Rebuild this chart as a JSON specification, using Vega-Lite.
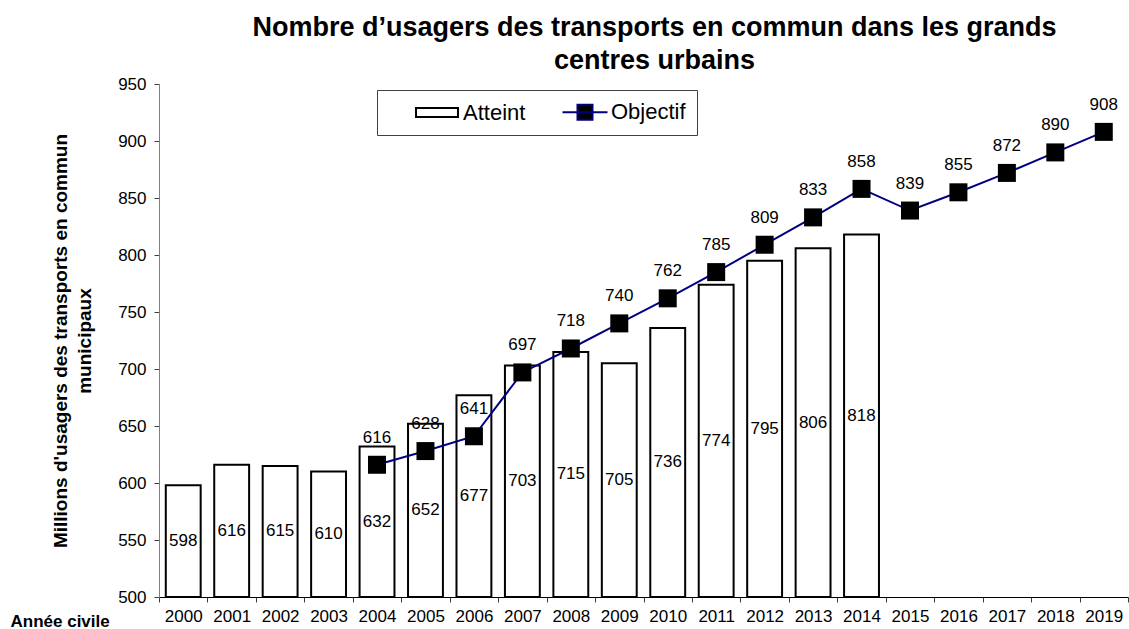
{
  "$schema": "https://vega.github.io/schema/vega-lite/v6.json",
  "width": 969,
  "height": 513,
  "autosize": "none",
  "padding": {"left": 159, "top": 84, "right": 1, "bottom": 32},
  "background": "white",
  "title": {
    "text": ["Nombre d’usagers des transports en commun dans les grands", "centres urbains"],
    "fontSize": 27,
    "fontWeight": "bold",
    "font": "Liberation Sans",
    "color": "black",
    "anchor": "middle",
    "dx": 11,
    "offset": 0,
    "lineHeight": 33
  },
  "config": {
    "font": "Liberation Sans",
    "view": {"stroke": null},
    "axis": {"labelFont": "Liberation Sans", "labelFontSize": 17, "labelColor": "black", "grid": false, "titleFont": "Liberation Sans", "titleColor": "black"}
  },
  "data": {
    "values": [
      {"annee": "2000", "Atteint": 598, "Objectif": null},
      {"annee": "2001", "Atteint": 616, "Objectif": null},
      {"annee": "2002", "Atteint": 615, "Objectif": null},
      {"annee": "2003", "Atteint": 610, "Objectif": null},
      {"annee": "2004", "Atteint": 632, "Objectif": 616},
      {"annee": "2005", "Atteint": 652, "Objectif": 628},
      {"annee": "2006", "Atteint": 677, "Objectif": 641},
      {"annee": "2007", "Atteint": 703, "Objectif": 697},
      {"annee": "2008", "Atteint": 715, "Objectif": 718},
      {"annee": "2009", "Atteint": 705, "Objectif": 740},
      {"annee": "2010", "Atteint": 736, "Objectif": 762},
      {"annee": "2011", "Atteint": 774, "Objectif": 785},
      {"annee": "2012", "Atteint": 795, "Objectif": 809},
      {"annee": "2013", "Atteint": 806, "Objectif": 833},
      {"annee": "2014", "Atteint": 818, "Objectif": 858},
      {"annee": "2015", "Atteint": null, "Objectif": 839},
      {"annee": "2016", "Atteint": null, "Objectif": 855},
      {"annee": "2017", "Atteint": null, "Objectif": 872},
      {"annee": "2018", "Atteint": null, "Objectif": 890},
      {"annee": "2019", "Atteint": null, "Objectif": 908}
    ]
  },
  "encoding": {
    "x": {
      "field": "annee",
      "type": "ordinal",
      "scale": {"paddingInner": 0, "paddingOuter": 0},
      "axis": {
        "title": "Année civile",
        "titleFontSize": 17,
        "titleFontWeight": "bold",
        "titleAlign": "left",
        "titleAnchor": "start",
        "titleBaseline": "top",
        "titleX": -149,
        "titleY": 16,
        "labelAngle": 0,
        "labelPadding": 6,
        "tickSize": 5,
        "tickBand": "extent",
        "domainColor": "black",
        "tickColor": "#404040"
      }
    }
  },
  "layer": [
    {
      "transform": [{"filter": "isValid(datum.Atteint)"}],
      "mark": {"type": "bar", "width": {"band": 0.72}, "fill": "white", "stroke": "black", "strokeWidth": 2},
      "encoding": {
        "y": {
          "field": "Atteint",
          "type": "quantitative",
          "scale": {"domain": [500, 950], "zero": false, "nice": false},
          "axis": {
            "title": ["Millions d'usagers des transports en commun", "municipaux"],
            "titleFontSize": 19,
            "titleFontWeight": "bold",
            "titleLineHeight": 24,
            "titlePadding": 23,
            "values": [500, 550, 600, 650, 700, 750, 800, 850, 900, 950],
            "tickSize": 5,
            "labelPadding": 8,
            "domainColor": "#808080",
            "tickColor": "#404040"
          }
        },
        "y2": {"datum": 500}
      }
    },
    {
      "transform": [{"filter": "isValid(datum.Atteint)"}],
      "mark": {"type": "text", "fontSize": 17, "color": "black", "baseline": "middle", "align": "center"},
      "encoding": {
        "y": {"field": "Atteint", "type": "quantitative", "scale": {"domain": [500, 1400], "zero": false, "nice": false}, "axis": null},
        "text": {"field": "Atteint", "type": "quantitative"}
      }
    },
    {
      "transform": [{"filter": "isValid(datum.Objectif)"}],
      "mark": {"type": "line", "color": "#000080", "strokeWidth": 2},
      "encoding": {
        "y": {"field": "Objectif", "type": "quantitative", "scale": {"domain": [500, 950], "zero": false, "nice": false}, "axis": null}
      }
    },
    {
      "transform": [{"filter": "isValid(datum.Objectif)"}],
      "mark": {"type": "point", "shape": "square", "filled": true, "color": "black", "size": 324, "opacity": 1},
      "encoding": {
        "y": {"field": "Objectif", "type": "quantitative", "scale": {"domain": [500, 950], "zero": false, "nice": false}, "axis": null}
      }
    },
    {
      "transform": [{"filter": "isValid(datum.Objectif)"}],
      "mark": {"type": "text", "fontSize": 17, "color": "black", "baseline": "middle", "align": "center", "dy": -27},
      "encoding": {
        "y": {"field": "Objectif", "type": "quantitative", "scale": {"domain": [500, 950], "zero": false, "nice": false}, "axis": null},
        "text": {"field": "Objectif", "type": "quantitative"}
      }
    },
    {
      "transform": [{"filter": "isValid(datum.Objectif)"}, {"fold": ["Objectif"], "as": ["serie", "val"]}],
      "mark": {"type": "point", "filled": true, "opacity": 0},
      "encoding": {
        "y": {"field": "val", "type": "quantitative", "scale": {"domain": [500, 950], "zero": false, "nice": false}, "axis": null},
        "shape": {
          "field": "serie", "type": "nominal",
          "scale": {"domain": ["Atteint", "Objectif"], "range": ["M-2.1,-0.45H2.1V0.45H-2.1Z", "M-2.25,0H2.25M-0.75,-0.75H0.75V0.75H-0.75Z"]},
          "legend": {"orient": "none", "legendX": 218, "legendY": 6, "direction": "horizontal", "title": null, "padding": 11, "strokeColor": "#404040", "fillColor": "white", "labelFontSize": 22, "labelFont": "Liberation Sans", "labelColor": "black", "symbolSize": 400, "symbolOffset": 38, "labelOffset": 15, "columnPadding": 10, "symbolStrokeWidth": 2, "symbolOpacity": 1, "labelExpr": "datum.label == 'Objectif' ? 'Objectif\u00a0\u00a0\u00a0\u00a0' : datum.label"}
        },
        "fill": {
          "field": "serie", "type": "nominal",
          "scale": {"domain": ["Atteint", "Objectif"], "range": ["white", "black"]},
          "legend": {"orient": "none", "legendX": 218, "legendY": 6, "direction": "horizontal", "title": null, "padding": 11, "strokeColor": "#404040", "fillColor": "white", "labelFontSize": 22, "labelFont": "Liberation Sans", "labelColor": "black", "symbolSize": 400, "symbolOffset": 38, "labelOffset": 15, "columnPadding": 10, "symbolStrokeWidth": 2, "symbolOpacity": 1, "labelExpr": "datum.label == 'Objectif' ? 'Objectif\u00a0\u00a0\u00a0\u00a0' : datum.label"}
        },
        "stroke": {
          "field": "serie", "type": "nominal",
          "scale": {"domain": ["Atteint", "Objectif"], "range": ["black", "#000080"]},
          "legend": {"orient": "none", "legendX": 218, "legendY": 6, "direction": "horizontal", "title": null, "padding": 11, "strokeColor": "#404040", "fillColor": "white", "labelFontSize": 22, "labelFont": "Liberation Sans", "labelColor": "black", "symbolSize": 400, "symbolOffset": 38, "labelOffset": 15, "columnPadding": 10, "symbolStrokeWidth": 2, "symbolOpacity": 1, "labelExpr": "datum.label == 'Objectif' ? 'Objectif\u00a0\u00a0\u00a0\u00a0' : datum.label"}
        }
      }
    }
  ],
  "resolve": {"scale": {"y": "independent"}}
}
